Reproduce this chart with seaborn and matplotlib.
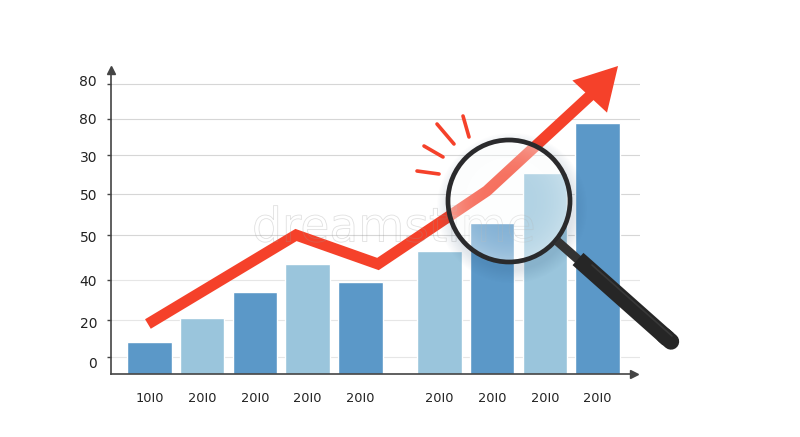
import numpy as np
import pandas as pd
import matplotlib
matplotlib.use('Agg')
import matplotlib.pyplot as plt
from matplotlib.patches import Circle
from matplotlib.transforms import ScaledTranslation
import matplotlib.patheffects as pe
import seaborn as sns

# values
year_labels = ['10I0', '20I0', '20I0', '20I0', '20I0', '20I0', '20I0', '20I0', '20I0']
bar_values = [32, 56, 82, 110, 92, 123, 151, 201, 251]
bar_shades = ['dark', 'light', 'dark', 'light', 'dark', 'light', 'dark', 'light', 'dark']
trend_slots = [-0.03, 2.78, 4.335, 6.40, 8.415]
trend_values = [50, 139, 110, 183, 281]
arrow_tip_slot = 8.89
arrow_tip_value = 308
grid_values = [290, 255, 219, 180, 139, 94, 54, 17]
grid_labels = ['80', '80', '30', '50', '50', '40', '20', '0']

RED = '#f5412a'
DARK = '#444444'

sns.set_theme(style='white', rc={'font.family': 'DejaVu Sans'})

fig = plt.figure(figsize=(8, 4.37), dpi=100)
ax = fig.add_axes([111 / 800, 63 / 437, 529 / 800, 304 / 437])

# the last four bars sit half a slot further right
bar_slots = np.arange(len(bar_values)) + 0.5 * (np.arange(len(bar_values)) >= 5)
df = pd.DataFrame({'slot': bar_slots, 'value': bar_values, 'shade': bar_shades})

sns.barplot(data=df, x='slot', y='value', hue='shade', native_scale=True, dodge=False,
            palette={'dark': '#5b98c8', 'light': '#9ac5dc'}, width=0.845, saturation=1,
            legend=False, ax=ax, zorder=2)

sns.lineplot(x=trend_slots, y=trend_values, sort=False, color=RED, linewidth=8, ax=ax,
             solid_capstyle='butt', solid_joinstyle='miter', zorder=3)
ax.annotate('', xy=(arrow_tip_slot, arrow_tip_value), xytext=(trend_slots[-1], trend_values[-1]),
            annotation_clip=False, zorder=3,
            arrowprops=dict(arrowstyle='-|>,head_length=30,head_width=17', mutation_scale=1,
                            shrinkA=0, shrinkB=0, fc=RED, ec=RED, lw=0))

ax.set_xlim(-0.7305, 9.307)
ax.set_ylim(0, 304)
ax.set_xlabel('')
ax.set_ylabel('')

ax.set_xticks(bar_slots)
ax.set_xticklabels(year_labels, fontsize=9.3, color='#222222')
ax.tick_params(axis='x', length=0, pad=13)

ax.set_yticks(grid_values)
ax.set_yticklabels(grid_labels, fontsize=10, color='#222222')
ax.tick_params(axis='y', left=True, length=3, width=1, color=DARK, pad=7)

# the labels do not sit exactly on their grid lines
label_nudge = [4, 0, -1, -1, -1, -1, -3, -5]
for lab, dy in zip(ax.get_yticklabels(), label_nudge):
    lab.set_transform(lab.get_transform() + ScaledTranslation(0, dy / 100, fig.dpi_scale_trans))

ax.yaxis.grid(True, linewidth=0.8)
ax.set_axisbelow(True)
for i, line in enumerate(ax.get_ygridlines()):
    line.set_color('#d6d6d6' if i < 5 else '#e6e6e6')

sns.despine(ax=ax)
for side in ['left', 'bottom']:
    ax.spines[side].set_color(DARK)
    ax.spines[side].set_linewidth(1.2)
ax.spines['bottom'].set_bounds(-0.7305, 9.118)
ax.plot(0, 1, '^', color=DARK, markersize=6, transform=ax.transAxes, clip_on=False, zorder=5)
ax.plot((637 - 111) / 529 - 0.006, 0, '>', color=DARK, markersize=6, transform=ax.transAxes,
        clip_on=False, zorder=5)

# overlay in pixel units for the magnifier and the decoration
top = fig.add_axes([0, 0, 1, 1])
top.set_xlim(0, 800)
top.set_ylim(437, 0)
top.axis('off')
top.patch.set_alpha(0)

top.text(394, 229, 'dreamstime', fontsize=34, color='none', ha='center', va='center',
         path_effects=[pe.Stroke(linewidth=0.6, foreground=(0.6, 0.6, 0.6, 0.3))], zorder=3)

sparks = [((463, 116), (469, 137)), ((437, 124), (454, 144)),
          ((424, 146), (443, 157)), ((417, 171), (439, 174))]
for a, b in sparks:
    top.plot([a[0], b[0]], [a[1], b[1]], color=RED, lw=2.6, solid_capstyle='round')

cx, cy, rad = 509, 201, 62

# soft shadow outside the lens only, dropped a bit to the lower right
sx, sy, srad = cx + 3, cy + 7, rad + 14
xx, yy = np.meshgrid(np.linspace(sx - srad, sx + srad, 300), np.linspace(sy - srad, sy + srad, 300))
fade = np.clip((srad - np.hypot(xx - sx, yy - sy)) / 14, 0, 1)
shadow = np.zeros((300, 300, 4))
shadow[..., :3] = [0.10, 0.25, 0.40]
shadow[..., 3] = 0.14 * fade * (np.hypot(xx - cx, yy - cy) > rad)
top.imshow(shadow, extent=(sx - srad, sx + srad, sy + srad, sy - srad), zorder=3, aspect='auto')

# lens glass, clearer in the middle
xx, yy = np.meshgrid(np.linspace(cx - rad, cx + rad, 200), np.linspace(cy - rad, cy + rad, 200))
dist = np.hypot(xx - cx, yy - cy) / rad
glass = np.ones((200, 200, 4))
glass[..., :3] = [0.98, 0.99, 0.99]
glass[..., 3] = 0.25 + 0.25 * dist ** 3
img = top.imshow(glass, extent=(cx - rad, cx + rad, cy + rad, cy - rad), zorder=3, aspect='auto')
img.set_clip_path(Circle((cx, cy), rad, transform=top.transData))
top.set_xlim(0, 800)
top.set_ylim(437, 0)

top.add_patch(Circle((cx, cy), 61, fill=False, ec='#2a2a2c', lw=3.4, zorder=4))

# handle, butt at the neck and round at the far end
top.plot([557, 582], [241, 263], color='#333333', lw=6.5, solid_capstyle='butt', zorder=4)
top.plot([578, 668], [259, 339], color='#262626', lw=11.8, solid_capstyle='butt', zorder=4)
top.plot([664, 671], [335.5, 341.5], color='#262626', lw=11.8, solid_capstyle='round', zorder=4)
top.plot([592, 672], [265, 336], color='#4a4a4a', lw=1.2, alpha=0.5, solid_capstyle='round', zorder=5)

fig.savefig('out.png', dpi=100)
